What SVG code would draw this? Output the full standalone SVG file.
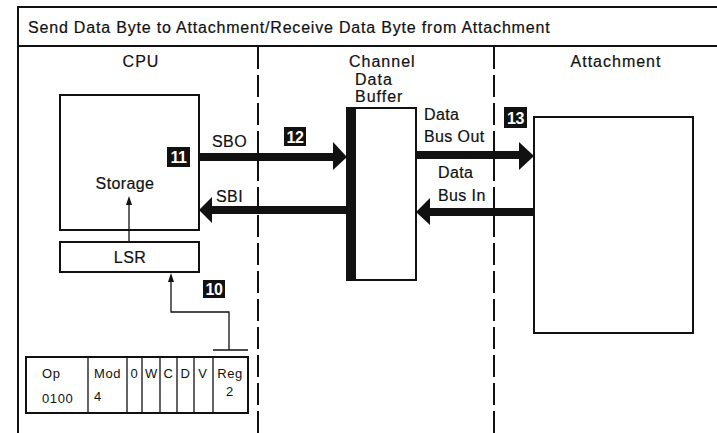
<svg xmlns="http://www.w3.org/2000/svg" width="717" height="433" viewBox="0 0 717 433">
<defs>
<style>
text{font-family:"Liberation Sans",Arial,sans-serif;fill:#111;stroke:#111;stroke-width:0.2;}
.t{font-size:16px;letter-spacing:0.4px;}
.h{font-size:16px;letter-spacing:1px;}
.s{font-size:13px;letter-spacing:0.6px;stroke:none;}
.box{fill:#fff;stroke:#111;stroke-width:2;}
.thin{fill:none;stroke:#111;stroke-width:1.3;}
.frame{fill:none;stroke:#111;stroke-width:2;}
.dash{fill:none;stroke:#111;stroke-width:2;stroke-dasharray:22 6;}
.bus{fill:none;stroke:#111;stroke-width:8;}
.head{fill:#111;}
.badge{fill:#111;}
.bt{font-size:16px;font-weight:bold;fill:#fff;stroke:none;text-anchor:middle;letter-spacing:-0.5px;}
</style>
</defs>
<rect width="717" height="433" fill="#fff"/>

<g id="frame">
<path class="frame" d="M18,433 V7 H717 M18,46 H717"/>
<text class="t" x="28" y="33" textLength="522" lengthAdjust="spacing">Send Data Byte to Attachment/Receive Data Byte from Attachment</text>
<path class="dash" d="M258,47 V433 M494,47 V433"/>
<text class="h" x="141" y="67" text-anchor="middle">CPU</text>
<text class="h" x="349" y="67">Channel</text>
<text class="h" x="355" y="85">Data</text>
<text class="h" x="355" y="102">Buffer</text>
<text class="h" x="616" y="67" text-anchor="middle">Attachment</text>
</g>

<g id="storage">
<rect class="box" x="60" y="95" width="139" height="135"/>
<text class="t" x="125" y="189" text-anchor="middle">Storage</text>
</g>

<g id="lsr">
<rect class="box" x="60" y="242" width="139" height="30"/>
<text class="t" x="130" y="263" text-anchor="middle">LSR</text>
</g>

<g id="buffer">
<rect class="box" x="351" y="108" width="65" height="172"/>
<rect x="346" y="107" width="10" height="174" fill="#111"/>
</g>

<g id="attachment">
<rect class="box" x="534" y="117" width="159" height="216"/>
</g>

<g id="instruction">
<rect class="box" x="26" y="357" width="222" height="56"/>
<path class="thin" d="M88,357 V413 M127,357 V413 M142,357 V413 M160,357 V413 M177,357 V413 M194,357 V413 M213,357 V413"/>
<text class="s" x="42" y="378">Op</text>
<text class="s" x="42" y="403">0100</text>
<text class="s" x="94" y="378">Mod</text>
<text class="s" x="94" y="401">4</text>
<text class="s" x="134.5" y="378" text-anchor="middle">0</text>
<text class="s" x="151.5" y="378" text-anchor="middle">W</text>
<text class="s" x="168.5" y="378" text-anchor="middle">C</text>
<text class="s" x="185.5" y="378" text-anchor="middle">D</text>
<text class="s" x="203" y="378" text-anchor="middle">V</text>
<text class="s" x="230" y="378" text-anchor="middle">Reg</text>
<text class="s" x="230" y="396" text-anchor="middle">2</text>
</g>

<g id="connectors">
<path class="thin" d="M129,242 V203"/>
<path class="head" d="M126,205 L129,196 L132,205 Z"/>
<path class="thin" d="M229,350 V312 H171 V280"/>
<path class="head" d="M168,282 L171,273 L174,282 Z"/>
<path class="thin" d="M213,350 H248"/>

<path class="bus" d="M199,157 H334"/>
<path class="head" d="M333,142 L347,157 L333,170 Z"/>
<path class="bus" d="M346,210 H211"/>
<path class="head" d="M212,197 L199,210 L212,223 Z"/>

<path class="bus" d="M416,155 H520"/>
<path class="head" d="M519,142 L534,156 L519,170 Z"/>
<path class="bus" d="M534,212 H429"/>
<path class="head" d="M430,198 L416,212 L430,225 Z"/>

<text class="t" x="212" y="147">SBO</text>
<text class="t" x="216" y="202">SBI</text>
<text class="t" x="424" y="120">Data</text>
<text class="t" x="424" y="142">Bus Out</text>
<text class="t" x="438" y="178">Data</text>
<text class="t" x="438" y="201">Bus In</text>
</g>

<g id="badges">
<rect class="badge" x="167" y="147" width="23" height="20"/>
<text class="bt" x="178.5" y="163">11</text>
<rect class="badge" x="284" y="127" width="22" height="19"/>
<text class="bt" x="295" y="142.5">12</text>
<rect class="badge" x="504" y="107" width="23" height="21"/>
<text class="bt" x="515.5" y="123.5">13</text>
<rect class="badge" x="203" y="280" width="22" height="18"/>
<text class="bt" x="214" y="295">10</text>
</g>
</svg>
